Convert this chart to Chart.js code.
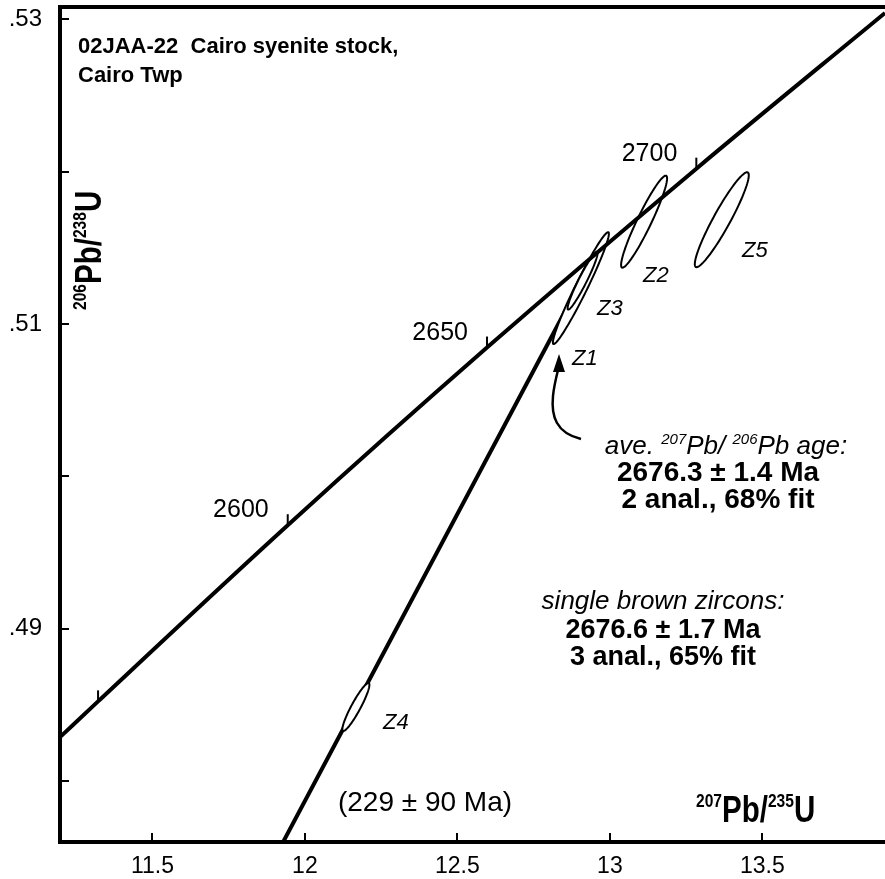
<!DOCTYPE html>
<html>
<head>
<meta charset="utf-8">
<script src="https://cdn.jsdelivr.net/npm/chart.js@4.4.1/dist/chart.umd.min.js"></script>
<style>
  html, body { margin: 0; padding: 0; background: #fff; }
  #wrap { width: 885px; height: 879px; }
</style>
</head>
<body>
<div id="wrap"><canvas id="concordia" width="885" height="879"></canvas></div>
<script>
// axis ticks
const xTicks = [11.5, 12, 12.5, 13, 13.5];
const xLabels = ['11.5', '12', '12.5', '13', '13.5'];
const yTicks = [0.48, 0.49, 0.50, 0.51, 0.52, 0.53];
const yLabels = ['', '.49', '', '.51', '', '.53'];

// concordia curve (207Pb/235U, 206Pb/238U)
const concX = [11.197, 11.3218, 11.9437, 12.597, 13.2834, 13.902];
const concY = [0.48288, 0.48523, 0.49679, 0.50845, 0.52019, 0.53041];

// age marks on the concordia (Ma)
const ageMarks = ['2550', '2600', '2650', '2700'];
const ageX = [11.3218, 11.9437, 12.597, 13.2834];
const ageY = [0.48523, 0.49679, 0.50845, 0.52019];
const ageShown = [false, true, true, true];

// discordia from the lower edge up to the upper intercept
const discX = [11.9286, 12.9538];
const discY = [0.476, 0.51462];

// zircon analyses: centre, 2 sigma errors, error correlation
const zircons = ['Z1', 'Z2', 'Z3', 'Z4', 'Z5'];
const zX = [12.9049, 13.1121, 12.9105, 12.1672, 13.3669];
const zY = [0.51235, 0.51671, 0.51284, 0.48486, 0.51684];
const zSx = [0.0918, 0.0754, 0.0492, 0.0443, 0.0885];
const zSy = [0.00367, 0.00302, 0.0019, 0.001574, 0.003115];
const zRho = [0.971, 0.94, 0.954, 0.924, 0.935];

const FAM = '"Liberation Sans", Arial, sans-serif';

// text made of runs, each run {t, size, bold, italic, rise}
function runs(ctx, parts, x, y, align, squeeze) {
  squeeze = squeeze || 1;
  const fnt = p => (p.italic ? 'italic ' : '') + (p.bold ? 'bold ' : '') + p.size + 'px ' + FAM;
  let w = 0;
  parts.forEach(p => { ctx.font = fnt(p); w += ctx.measureText(p.t).width; });
  ctx.save();
  ctx.translate(x, y);
  ctx.scale(squeeze, 1);
  let cx = align === 'center' ? -w / 2 : align === 'right' ? -w : 0;
  ctx.textBaseline = 'alphabetic';
  ctx.textAlign = 'left';
  ctx.fillStyle = '#000';
  parts.forEach(p => {
    ctx.font = fnt(p);
    ctx.fillText(p.t, cx, -(p.rise || 0));
    cx += ctx.measureText(p.t).width;
  });
  ctx.restore();
}

const zLabelPos = { Z1: [572, 365], Z2: [643, 282], Z3: [597, 315], Z4: [383, 729], Z5: [742, 257] };

const decor = {
  id: 'decor',
  afterDatasetDraw(chart, args) {
    if (args.index !== 1) return;
    // error ellipses, white filled, over the discordia
    const ctx = chart.ctx, xs = chart.scales.x, ys = chart.scales.y;
    ctx.save();
    zircons.forEach((z, i) => {
      const r = zRho[i], q = Math.sqrt(1 - r * r);
      ctx.beginPath();
      for (let k = 0; k <= 90; k++) {
        const a = k / 90 * Math.PI * 2;
        const px = xs.getPixelForValue(zX[i] + zSx[i] * Math.cos(a));
        const py = ys.getPixelForValue(zY[i] + zSy[i] * (r * Math.cos(a) + q * Math.sin(a)));
        if (k === 0) ctx.moveTo(px, py); else ctx.lineTo(px, py);
      }
      ctx.closePath();
      ctx.fillStyle = '#fff';
      ctx.fill();
      ctx.lineWidth = 2;
      ctx.strokeStyle = '#000';
      ctx.stroke();
    });
    ctx.restore();
  },
  afterDraw(chart) {
    const ctx = chart.ctx, xs = chart.scales.x, ys = chart.scales.y, area = chart.chartArea;
    ctx.save();
    ctx.strokeStyle = '#000';
    ctx.lineCap = 'butt';

    // inner tick marks
    ctx.lineWidth = 2;
    xTicks.forEach(v => {
      const px = Math.round(xs.getPixelForValue(v));
      ctx.beginPath(); ctx.moveTo(px, area.bottom); ctx.lineTo(px, area.bottom - 9); ctx.stroke();
    });
    yTicks.forEach(v => {
      const py = Math.round(ys.getPixelForValue(v));
      ctx.beginPath(); ctx.moveTo(area.left, py); ctx.lineTo(area.left + 9, py); ctx.stroke();
    });

    // age marks on the concordia
    ageMarks.forEach((a, i) => {
      const px = xs.getPixelForValue(ageX[i]), py = ys.getPixelForValue(ageY[i]);
      ctx.lineWidth = 2;
      ctx.beginPath(); ctx.moveTo(px, py); ctx.lineTo(px, py - 11); ctx.stroke();
      if (ageShown[i]) runs(ctx, [{ t: a, size: 25 }], px - 19, py - 8, 'right');
    });

    // zircon labels
    zircons.forEach(z => {
      const p = zLabelPos[z];
      runs(ctx, [{ t: z, size: 22, italic: true }], p[0], p[1], 'left');
    });

    // title
    runs(ctx, [{ t: '02JAA-22  Cairo syenite stock,', size: 22, bold: true }], 78, 53, 'left');
    runs(ctx, [{ t: 'Cairo Twp', size: 22, bold: true }], 78, 82, 'left');

    // age summaries
    runs(ctx, [
      { t: 'ave. ', size: 26, italic: true },
      { t: '207', size: 15, italic: true, rise: 10 },
      { t: 'Pb/ ', size: 26, italic: true },
      { t: '206', size: 15, italic: true, rise: 10 },
      { t: 'Pb age:', size: 26, italic: true }
    ], 726, 454, 'center');
    runs(ctx, [{ t: '2676.3 \u00b1 1.4 Ma', size: 28, bold: true }], 718, 481, 'center');
    runs(ctx, [{ t: '2 anal., 68% fit', size: 28, bold: true }], 718, 508, 'center');

    runs(ctx, [{ t: 'single brown zircons:', size: 26, italic: true }], 663, 609, 'center');
    runs(ctx, [{ t: '2676.6 \u00b1 1.7 Ma', size: 27, bold: true }], 663, 638, 'center');
    runs(ctx, [{ t: '3 anal., 65% fit', size: 27, bold: true }], 663, 665, 'center');

    runs(ctx, [{ t: '(229 \u00b1 90 Ma)', size: 28 }], 425, 811, 'center');

    // axis titles
    const xt = [
      { t: '207', size: 19, bold: true, rise: 15 },
      { t: 'Pb/', size: 36, bold: true },
      { t: '235', size: 19, bold: true, rise: 15 },
      { t: 'U', size: 36, bold: true }
    ];
    runs(ctx, xt, 696, 822, 'left', 0.82);
    const yt = [
      { t: '206', size: 19, bold: true, rise: 15 },
      { t: 'Pb/', size: 36, bold: true },
      { t: '238', size: 19, bold: true, rise: 15 },
      { t: 'U', size: 36, bold: true }
    ];
    ctx.save();
    ctx.translate(101, 310);
    ctx.rotate(-Math.PI / 2);
    runs(ctx, yt, 0, 0, 'left', 0.82);
    ctx.restore();

    // arrow pointing to Z1
    ctx.lineWidth = 2.5;
    ctx.beginPath();
    ctx.moveTo(581, 439);
    ctx.bezierCurveTo(556, 433, 551, 416, 553, 396);
    ctx.bezierCurveTo(554, 386, 556, 378, 558, 370);
    ctx.stroke();
    ctx.fillStyle = '#000';
    ctx.beginPath();
    ctx.moveTo(559, 354);
    ctx.lineTo(553, 372);
    ctx.lineTo(565, 372);
    ctx.closePath();
    ctx.fill();
    ctx.restore();
  }
};

const ctx = document.getElementById('concordia').getContext('2d');

new Chart(ctx, {
  type: 'scatter',
  data: {
    datasets: [
      {
        label: 'concordia',
        data: concX.map((x, i) => ({ x: x, y: concY[i] })),
        showLine: true,
        borderColor: '#000',
        borderWidth: 4,
        pointRadius: 0,
        cubicInterpolationMode: 'monotone',
        fill: false
      },
      {
        label: 'discordia',
        data: discX.map((x, i) => ({ x: x, y: discY[i] })),
        showLine: true,
        borderColor: '#000',
        borderWidth: 4,
        pointRadius: 0,
        fill: false
      }
    ]
  },
  options: {
    responsive: false,
    animation: false,
    events: [],
    layout: { padding: 0 },
    plugins: { legend: { display: false }, tooltip: { enabled: false } },
    scales: {
      x: {
        type: 'linear',
        position: 'bottom',
        min: 11.197,
        max: 13.902,
        afterBuildTicks: s => { s.ticks = xTicks.map(v => ({ value: v })); },
        afterFit: s => { s.height = 37; s.paddingLeft = 0; s.paddingRight = 0; },
        grid: { display: false, drawTicks: false },
        border: { display: true, width: 4, color: '#000' },
        ticks: {
          autoSkip: false,
          maxRotation: 0,
          padding: 11,
          color: '#000',
          font: { family: FAM, size: 23 },
          callback: (v, i) => xLabels[i]
        }
      },
      xTop: {
        type: 'linear',
        position: 'top',
        min: 11.197,
        max: 13.902,
        afterFit: s => { s.height = 7; s.paddingLeft = 0; s.paddingRight = 0; },
        grid: { display: false, drawTicks: false },
        border: { display: true, width: 4, color: '#000' },
        ticks: { display: false }
      },
      y: {
        type: 'linear',
        position: 'left',
        min: 0.476,
        max: 0.5308,
        afterBuildTicks: s => { s.ticks = yTicks.map(v => ({ value: v })); },
        afterFit: s => { s.width = 60; s.paddingTop = 0; s.paddingBottom = 0; },
        grid: { display: false, drawTicks: false },
        border: { display: true, width: 4, color: '#000' },
        ticks: {
          autoSkip: false,
          padding: 18,
          color: '#000',
          font: { family: FAM, size: 24 },
          callback: (v, i) => yLabels[i]
        }
      }
    }
  },
  plugins: [decor]
});
</script>
</body>
</html>
